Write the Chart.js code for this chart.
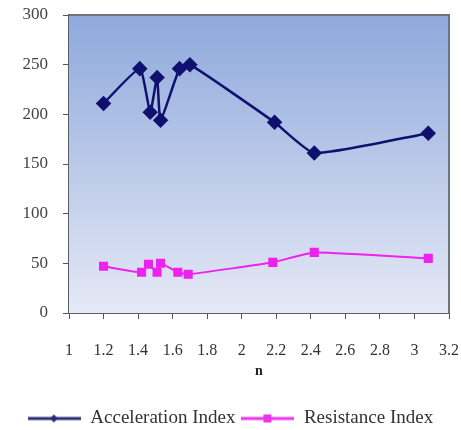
<!DOCTYPE html>
<html>
<head>
<meta charset="utf-8">
<style>
  body { margin: 0; padding: 0; background: #fff; }
  #wrap { width: 461px; height: 430px; }
</style>
</head>
<body>
<div id="wrap"><canvas id="c"></canvas></div>
<script src="https://cdn.jsdelivr.net/npm/chart.js@4/dist/chart.umd.min.js"></script>
<script>
// values
var accelN   = [1.2, 1.41, 1.47, 1.51, 1.53, 1.64, 1.70, 2.19, 2.42, 3.08];
var accelVal = [211, 246, 202, 237, 194, 246, 250, 192, 161, 181];
var resistN   = [1.2, 1.42, 1.46, 1.51, 1.53, 1.63, 1.69, 2.18, 2.42, 3.08];
var resistVal = [47, 41, 49, 41, 50, 41, 39, 51, 61, 55];
var seriesNames = ['Acceleration Index', 'Resistance Index'];
var xTicks = [1, 1.2, 1.4, 1.6, 1.8, 2, 2.2, 2.4, 2.6, 2.8, 3, 3.2];

function pts(xs, ys) {
  return xs.map(function(x, i) { return {x: x, y: ys[i]}; });
}

// legend swatch: line with marker in the middle
function swatch(color, shape) {
  var cv = document.createElement('canvas');
  cv.width = 53; cv.height = 12;
  var g = cv.getContext('2d');
  g.strokeStyle = color; g.lineWidth = 3;
  g.beginPath(); g.moveTo(0, 6); g.lineTo(53, 6); g.stroke();
  g.fillStyle = color;
  if (shape == 'diamond') {
    g.beginPath(); g.moveTo(26, 2); g.lineTo(30, 6); g.lineTo(26, 10); g.lineTo(22, 6); g.closePath(); g.fill();
  } else {
    g.fillRect(22, 2, 8, 8);
  }
  return cv;
}

var bgPlugin = {
  id: 'plotBg',
  beforeLayout: function(chart) {
    // legend sits low and runs off the bottom edge, like the original
    var lg = chart.legend;
    if (lg && !lg._short) {
      var f = lg.fit;
      lg.fit = function() { f.call(this); this.height = 27; };
      lg._short = true;
    }
  },
  beforeDatasetsDraw: function(chart) {
    var a = chart.chartArea, ctx = chart.ctx;
    var gr = ctx.createLinearGradient(0, a.top, 0, a.bottom);
    gr.addColorStop(0, '#8ea9dc');
    gr.addColorStop(1, '#e6e9f6');
    ctx.save();
    ctx.fillStyle = gr;
    ctx.fillRect(a.left, a.top, a.right - a.left, a.bottom - a.top);
    ctx.strokeStyle = '#6f737c';
    ctx.lineWidth = 2;
    ctx.beginPath();
    ctx.moveTo(a.left, a.top); ctx.lineTo(a.right, a.top); ctx.lineTo(a.right, a.bottom);
    ctx.stroke();
    ctx.restore();
  }
};

var serif = '"Liberation Serif", "DejaVu Serif", serif';

new Chart(document.getElementById('c'), {
  type: 'scatter',
  data: {
    datasets: [{
      label: seriesNames[0],
      data: pts(accelN, accelVal),
      showLine: true,
      borderColor: '#10106e',
      backgroundColor: '#10106e',
      borderWidth: 2.5,
      pointStyle: 'rectRot',
      pointRadius: 6,
      tension: 0.15
    }, {
      label: seriesNames[1],
      data: pts(resistN, resistVal),
      showLine: true,
      borderColor: '#ee22ee',
      backgroundColor: '#ee22ee',
      borderWidth: 2,
      pointStyle: 'rect',
      pointRadius: 5,
      tension: 0.15
    }]
  },
  options: {
    responsive: true,
    maintainAspectRatio: false,
    animation: false,
    layout: { padding: { left: 0, right: 0, top: 0, bottom: 0 } },
    scales: {
      x: {
        type: 'linear', min: 1, max: 3.2,
        afterBuildTicks: function(s) { s.ticks = xTicks.map(function(v) { return {value: v}; }); },
        afterFit: function(s) { s.height = 90; s.paddingRight = 12; s.paddingLeft = 0; },
        grid: { drawOnChartArea: false, drawTicks: true, tickLength: 6, color: '#555' },
        border: { display: true, color: '#5a5e66', width: 2 },
        ticks: {
          color: '#333', font: { family: serif, size: 16 }, padding: 22, maxRotation: 0, autoSkip: false,
          callback: function(v) { return String(Math.round(v * 10) / 10); }
        },
        title: { display: true, text: 'n', color: '#222', font: { family: serif, size: 14, weight: 'bold' }, padding: { top: 0, bottom: 23 } }
      },
      y: {
        min: 0, max: 300,
        afterFit: function(s) { s.width = 69; s.paddingTop = 15; s.paddingBottom = 0; },
        grid: { drawOnChartArea: false, drawTicks: true, tickLength: 6, color: '#555' },
        border: { display: true, color: '#5a5e66', width: 2 },
        ticks: { stepSize: 50, color: '#444', font: { family: serif, size: 17 }, padding: 15 }
      }
    },
    plugins: {
      legend: {
        position: 'bottom',
        labels: {
          usePointStyle: true,
          pointStyleWidth: 53,
          color: '#333',
          font: { family: serif, size: 19 },
          padding: 6,
          generateLabels: function(chart) {
            return [
              { text: seriesNames[0], pointStyle: swatch('#2a2a78', 'diamond'), datasetIndex: 0, fontColor: '#333' },
              { text: seriesNames[1], pointStyle: swatch('#ee33ee', 'square'), datasetIndex: 1, fontColor: '#333' }
            ];
          }
        }
      },
      tooltip: { enabled: false }
    }
  },
  plugins: [bgPlugin]
});
</script>
</body>
</html>
